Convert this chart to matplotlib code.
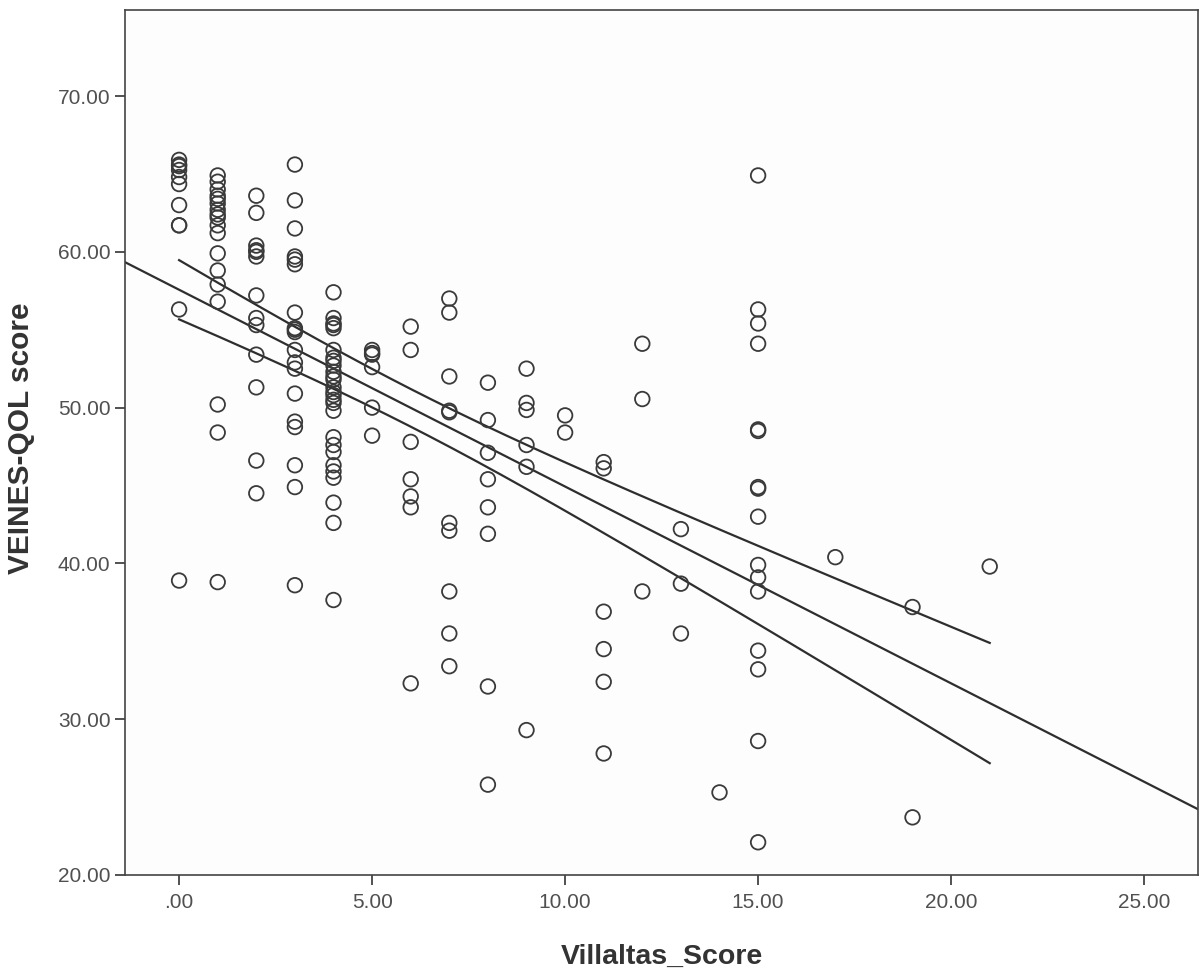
import numpy as np
import matplotlib
matplotlib.use("Agg")
import matplotlib.pyplot as plt
from matplotlib.ticker import FuncFormatter

# Villaltas score (x) with VEINES-QOL scores (y), grouped by x
# (bold rings in the reference are counted as overlapping points)
villalta_levels = [0, 1, 2, 3, 4, 5, 6, 7, 8, 9, 10, 11, 12, 13, 14, 15, 17, 19, 21]
veines_by_level = [
    [65.9, 65.6, 65.5, 65.25, 64.8, 64.35, 63.0, 61.7, 61.7, 56.3, 38.9],
    [64.9, 64.5, 64.0, 63.6, 63.4, 63.1, 62.7, 62.4, 62.2, 61.7, 61.2, 59.9, 58.8,
     57.9, 56.8, 50.2, 48.4, 38.8],
    [63.6, 62.5, 60.4, 60.1, 60.0, 59.7, 57.2, 55.75, 55.3, 53.4, 51.3, 46.6, 44.5],
    [65.6, 63.3, 61.5, 59.7, 59.5, 59.2, 56.1, 55.1, 55.0, 54.85, 53.7, 52.9, 52.5,
     50.9, 49.1, 48.75, 46.3, 44.9, 38.6],
    [57.4, 55.75, 55.4, 55.3, 55.1, 53.7, 53.2, 53.0, 52.7, 52.3, 52.0, 51.8, 51.3,
     51.0, 50.8, 50.5, 50.3, 49.8, 48.1, 47.6, 47.15, 46.3, 45.9, 45.5, 43.9, 42.6,
     37.65],
    [53.7, 53.5, 53.4, 52.6, 50.0, 48.2],
    [55.2, 53.7, 47.8, 45.4, 44.3, 43.6, 32.3],
    [57.0, 56.1, 52.0, 49.8, 49.7, 42.6, 42.1, 38.2, 35.5, 33.4],
    [51.6, 49.2, 47.1, 45.4, 43.6, 41.9, 32.1, 25.8],
    [52.5, 50.3, 49.85, 47.6, 46.2, 29.3],
    [49.5, 48.4],
    [46.5, 46.1, 36.9, 34.5, 32.4, 27.8],
    [54.1, 50.55, 38.2],
    [42.2, 38.7, 35.5],
    [25.3],
    [64.9, 56.3, 55.4, 54.1, 48.6, 48.5, 44.9, 44.8, 43.0, 39.9, 39.1, 38.2, 34.4,
     33.2, 28.6, 22.1],
    [40.4],
    [37.2, 23.7],
    [39.8],
]

x_ticks = [0, 5, 10, 15, 20, 25]
y_ticks = [20, 30, 40, 50, 60, 70]
T_CRIT = 1.975  # t(0.975, n-2) for the 95% band of the mean

x = np.concatenate([[lv] * len(v) for lv, v in zip(villalta_levels, veines_by_level)]).astype(float)
y = np.concatenate(veines_by_level).astype(float)

# least squares fit and confidence band of the mean
slope, intercept = np.polyfit(x, y, 1)
n = len(x)
resid = y - (intercept + slope * x)
s = np.sqrt(np.sum(resid ** 2) / (n - 2))
sxx = np.sum((x - x.mean()) ** 2)

fig = plt.figure(figsize=(11.99, 9.72), dpi=100)
ax = fig.add_axes([0.1043, 0.0998, 0.895, 0.8899])
ax.set_facecolor("#fdfdfd")

ax.scatter(x, y, s=110, facecolors="none", edgecolors="#3a3a3a", linewidths=1.3, zorder=3)

xlim = (-1.40, 26.4)
xf = np.linspace(xlim[0], xlim[1], 200)
ax.plot(xf, intercept + slope * xf, color="#2e2e2e", lw=1.6, zorder=2)

xb = np.linspace(x.min(), x.max(), 200)
half = T_CRIT * s * np.sqrt(1.0 / n + (xb - x.mean()) ** 2 / sxx)
ax.plot(xb, intercept + slope * xb + half, color="#2e2e2e", lw=1.6, zorder=2)
ax.plot(xb, intercept + slope * xb - half, color="#2e2e2e", lw=1.6, zorder=2)

ax.set_xlim(*xlim)
ax.set_ylim(20, 75.52)
ax.set_xticks(x_ticks)
ax.set_yticks(y_ticks)
fmt = FuncFormatter(lambda v, p: ".00" if abs(v) < 1e-9 else f"{v:.2f}")
ax.xaxis.set_major_formatter(fmt)
ax.yaxis.set_major_formatter(fmt)
ax.tick_params(direction="out", length=7, width=1.2, color="#333333",
               labelsize=15, labelcolor="#505050")
ax.tick_params(axis="x", pad=6)
ax.tick_params(axis="y", pad=3.5)
for lab in ax.get_xticklabels() + ax.get_yticklabels():
    lab.set_family("Liberation Sans")

for sp in ax.spines.values():
    sp.set_color("#444444")
    sp.set_linewidth(1.2)

ax.set_xlabel("Villaltas_Score", fontsize=20.5, fontweight="bold", family="Liberation Sans",
              color="#333333")
ax.set_ylabel("VEINES-QOL score", fontsize=21.5, fontweight="bold", family="Liberation Sans",
              color="#333333")
ax.xaxis.set_label_coords(0.5, -0.08)
ax.yaxis.set_label_coords(-0.084, 0.505)

fig.savefig("out.png", dpi=100)
